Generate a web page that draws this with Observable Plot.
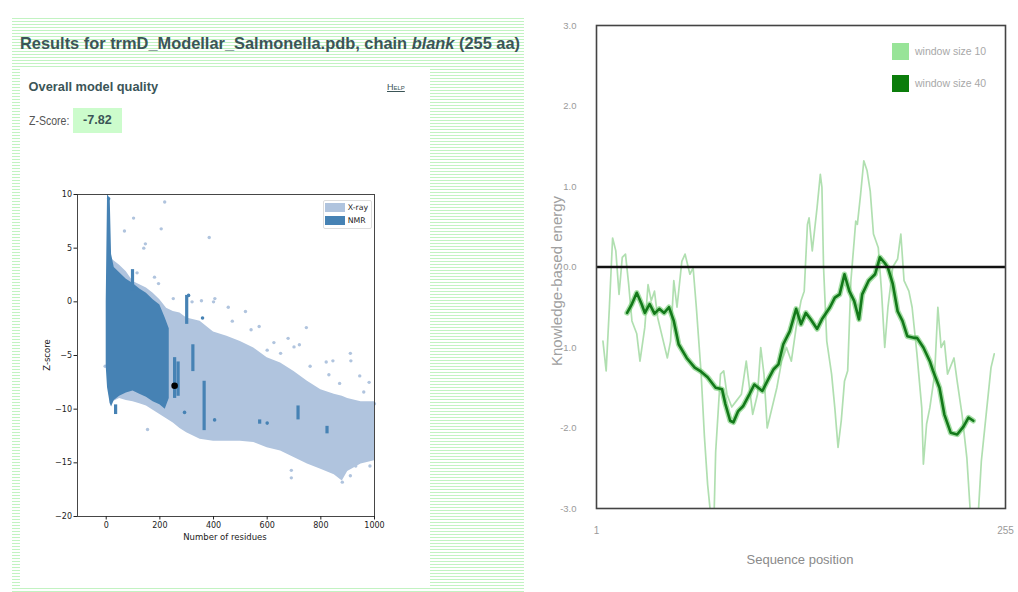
<!DOCTYPE html>
<html>
<head>
<meta charset="utf-8">
<script src="https://cdn.jsdelivr.net/npm/d3@7"></script>
<script src="https://cdn.jsdelivr.net/npm/@observablehq/plot@0.6"></script>
<style>
  body { margin:0; width:1018px; height:592px; position:relative; overflow:hidden; background:#fff; font-family:"Liberation Sans", Arial, sans-serif; }
  .abs { position:absolute; white-space:nowrap; }
  #stripes { left:12px; top:18px; width:512px; height:574px; background: repeating-linear-gradient(to bottom, #c2f3c2 0px, #c2f3c2 1px, #ffffff 1px, #ffffff 3px); }
  #panel { left:20px; top:67px; width:410px; height:521px; background:#fff; }
  #title { left:20px; top:34px; font-size:16.4px; font-weight:bold; color:#3b5557; line-height:18px; }
  #oq { left:28.6px; top:80px; font-size:12.8px; font-weight:bold; color:#3b5557; line-height:14px; }
  #help { left:387px; top:82px; font-size:9px; font-variant:small-caps; text-decoration:underline; color:#3b5557; line-height:10px; }
  #zlab { left:28.6px; top:113px; font-size:13.5px; color:#555; line-height:16px; transform:scaleX(0.78); transform-origin:left center; }
  #zbox { left:73px; top:108px; width:48.6px; height:25px; background:#ccfccc; color:#3b5557; font-weight:bold; font-size:12.6px; line-height:25px; text-align:center; }
  #scatter { left:30px; top:185px; }
  .mpl { font-family:"DejaVu Sans", sans-serif; color:#222; }
  #xl1 { left:125px; top:532px; width:200px; text-align:center; font-size:8.5px; }
  #yl1 { left:47px; top:355px; font-size:8.5px; transform:translate(-50%,-50%) rotate(-90deg); }
  #leg1 { left:322.7px; top:200px; width:47px; height:27px; border:1px solid #ddd; border-radius:2px; background:rgba(255,255,255,0.85); }
  .sw1 { position:absolute; left:1px; width:20px; height:8.5px; }
  .lt1 { position:absolute; left:24px; font-size:7.8px; line-height:9px; }
  #line { left:530px; top:0px; }
  #yl2 { left:556px; top:281px; font-size:15px; color:#a0a0a0; transform:translate(-50%,-50%) rotate(-90deg); }
  #xl2 { left:700px; top:552px; width:200px; text-align:center; font-size:13px; color:#8a8a8a; }
  .sw2 { position:absolute; width:17px; height:17px; }
  .lt2 { position:absolute; font-size:10.5px; color:#a8a8a8; line-height:12px; }
</style>
</head>
<body>
<div id="stripes" class="abs"></div>
<div id="title" class="abs">Results for trmD_Modellar_Salmonella.pdb, chain <i>blank</i> (255 aa)</div>
<div id="panel" class="abs"></div>
<div id="oq" class="abs">Overall model quality</div>
<div id="help" class="abs">Help</div>
<div id="zlab" class="abs">Z-Score:</div>
<div id="zbox" class="abs">-7.82</div>
<div id="scatter" class="abs"></div>
<div id="xl1" class="abs mpl">Number of residues</div>
<div id="yl1" class="abs mpl">Z-score</div>
<div id="leg1" class="abs mpl">
  <div class="sw1" style="top:2px;background:#b0c4de"></div><div class="lt1" style="top:1.5px">X-ray</div>
  <div class="sw1" style="top:15px;background:#4682b4"></div><div class="lt1" style="top:14.5px">NMR</div>
</div>
<div id="line" class="abs"></div>
<div id="yl2" class="abs">Knowledge-based energy</div>
<div id="xl2" class="abs">Sequence position</div>
<div class="sw2 abs" style="left:892px;top:43px;background:#98e498"></div>
<div class="lt2 abs" style="left:915px;top:45px">window size 10</div>
<div class="sw2 abs" style="left:892px;top:75px;background:#0b7d0b"></div>
<div class="lt2 abs" style="left:915px;top:77px">window size 40</div>
<script>
// ---------- Left: Z-score vs number of residues ----------
const xrayResidues = [5, 15, 25, 50, 75, 100, 125, 150, 175, 200, 225, 250, 275, 300, 350, 400, 450, 500, 550, 600, 650, 700, 750, 800, 850, 880, 900, 950, 1000];
const xrayUpper    = [4.6, 4.3, 3.9, 3.4, 2.8, 1.9, 1.6, 1.3, 0.8, 0.2, -0.6, -0.9, -1.05, -1.5, -1.8, -2.8, -3.2, -3.7, -4.3, -5.2, -5.7, -6.5, -7.4, -8.2, -8.6, -8.8, -9.0, -9.3, -9.3];
const xrayLower    = [-7.0, -9.5, -9.3, -9.0, -9.2, -9.3, -9.5, -9.7, -10.1, -10.5, -10.9, -11.3, -11.8, -12.2, -12.8, -13.0, -13.0, -13.0, -13.1, -13.6, -13.9, -14.5, -15.1, -15.6, -16.1, -16.7, -15.8, -15.1, -14.8];
const xrayOutlierX = [218, 102, 68, 205, 384, 146, 140, 180, 115, 195, 250, 320, 355, 400, 405, 455, 519, 570, 678, 746, 700, 720, 600, 625, 820, 845, 910, 912, 945, 980, 1000, 154, -4, 910, 930, 983, 690, 690, 880, 470, 540, 650, 760, 830, 870, 960];
const xrayOutlierY = [9.3, 7.8, 6.6, 6.8, 6.0, 5.4, 5.0, 2.3, 2.7, 1.7, 0.3, 0.0, 0.1, 0.0, 0.3, -0.5, -0.9, -2.3, -3.4, -2.4, -4.2, -4.0, -4.5, -3.8, -5.6, -5.5, -4.8, -5.5, -6.9, -7.5, -9.5, -11.9, -6.0, -16.2, -15.3, -15.3, -15.7, -16.4, -16.8, -1.8, -2.6, -4.8, -6.0, -6.8, -7.6, -8.4];
const nmrResidues = [0, 5, 15, 20, 30, 50, 75, 100, 125, 150, 175, 200, 220, 235];
const nmrUpper    = [0, 10, 9.6, 4.4, 3.2, 2.7, 2.1, 1.7, 1.2, 0.8, 0.2, -0.3, -1.5, -2.5];
const nmrLower    = [-6, -8, -9.5, -9.8, -9.2, -8.8, -8.5, -8.3, -8.6, -8.9, -9.3, -9.6, -10.0, -9.0];
const nmrStripeX  = [300, 323, 255, 268, 365, 715, 823, 572, 98, 35];
const nmrStripeY1 = [0.6, -4.0, -5.2, -5.6, -7.4, -9.7, -11.6, -11.0, 3.0, -9.6];
const nmrStripeY2 = [-2.1, -6.5, -9.0, -8.8, -12.0, -11.0, -12.3, -11.4, 1.0, -10.5];
const nmrDotX = [600, 404, 292, 359, 307, 9];
const nmrDotY = [-11.3, -11.0, -10.3, -1.5, 0.6, 9.6];
const modelResidues = 255, modelZ = -7.82;
const scatterXTicks = [0, 200, 400, 600, 800, 1000];
const scatterYTicks = [-20, -15, -10, -5, 0, 5, 10];

// ---------- Right: energy profile ----------
const win40Pos = [20, 23, 26, 29, 31, 34, 37, 40, 43, 46, 49, 52, 57, 62, 66, 70, 75, 79, 81, 84, 86, 89, 92, 96, 99, 104, 107, 111, 114, 117, 121, 125, 128, 131, 134, 138, 141, 146, 149, 152, 155, 158, 161, 164, 166, 170, 174, 177, 180, 182, 185, 188, 191, 194, 198, 200, 204, 208, 210, 214, 217, 221, 225, 229, 232, 235];
const win40Val = [-0.57, -0.46, -0.32, -0.46, -0.57, -0.46, -0.58, -0.52, -0.57, -0.5, -0.67, -0.96, -1.13, -1.25, -1.3, -1.37, -1.5, -1.52, -1.7, -1.91, -1.93, -1.79, -1.73, -1.58, -1.46, -1.54, -1.42, -1.27, -1.21, -0.96, -0.8, -0.52, -0.71, -0.57, -0.65, -0.77, -0.65, -0.5, -0.38, -0.34, -0.09, -0.3, -0.42, -0.65, -0.34, -0.17, -0.09, 0.12, 0.05, -0.01, -0.21, -0.55, -0.67, -0.86, -0.88, -0.88, -1.0, -1.17, -1.29, -1.5, -1.83, -2.06, -2.08, -1.98, -1.87, -1.91];
const win10Pos = [5, 7, 9, 11, 13, 15, 17, 19, 21, 23, 26, 28, 31, 33, 35, 37, 39, 42, 45, 47, 49, 51, 54, 56, 59, 61, 63, 66, 68, 70, 72, 74, 75, 78, 80, 82, 85, 88, 91, 94, 98, 101, 103, 105, 107, 110, 113, 116, 119, 122, 125, 128, 130, 132, 133, 135, 138, 140, 141, 142, 144, 147, 149, 151, 153, 155, 157, 159, 161, 162, 163, 165, 167, 169, 171, 173, 176, 178, 180, 182, 185, 188, 190, 192, 195, 197, 200, 203, 204, 206, 208, 211, 213, 215, 217, 219, 223, 225, 228, 231, 233, 235, 238, 240, 243, 246, 248];
const win10Val = [-0.92, -1.29, -0.5, 0.36, 0.2, -0.34, 0.12, 0.16, -0.22, -0.67, -0.83, -1.17, -0.75, -0.22, -0.42, -0.3, -0.63, -0.88, -1.13, -0.92, -0.17, -0.5, 0.07, 0.16, -0.09, -0.01, -0.5, -1.33, -2.1, -2.7, -3.1, -3.1, -2.3, -1.33, -1.29, -1.58, -1.74, -1.66, -1.58, -1.17, -1.83, -1.58, -1.0, -1.33, -2.0, -1.75, -1.5, -1.17, -1.0, -1.17, -0.75, -0.42, -0.3, 0.53, 0.61, 0.2, 0.74, 1.15, 0.99, 0.0, -0.92, -1.33, -1.75, -2.24, -1.91, -1.42, -1.29, -0.17, 0.32, 0.57, 0.53, 0.9, 1.32, 1.2, 0.94, 0.41, 0.24, -0.3, -1.0, -0.5, 0.0, 0.1, 0.41, -0.17, -0.3, -0.5, -1.08, -1.75, -2.45, -1.95, -1.75, -1.33, -0.5, -1.0, -0.92, -1.33, -1.13, -1.42, -1.83, -2.37, -3.0, -3.2, -3.1, -2.41, -1.83, -1.25, -1.08];
const energyYTicks = [-3, -2, -1, 0, 1, 2, 3];
const energyXTicks = [1, 255];

// ---- build tables ----
const xrayBand = xrayResidues.map((x, i) => ({x, y1: xrayLower[i], y2: xrayUpper[i]}));
const xrayDots = xrayOutlierX.map((x, i) => ({x, y: xrayOutlierY[i]}));
const nmrBand = nmrResidues.map((x, i) => ({x, y1: nmrLower[i], y2: nmrUpper[i]}));
const nmrStripes = nmrStripeX.map((x, i) => ({x, y1: nmrStripeY1[i], y2: nmrStripeY2[i]}));
const nmrDots = nmrDotX.map((x, i) => ({x, y: nmrDotY[i]}));
const minus = d => d < 0 ? "\u2212" + Math.abs(d) : String(d);
const hyphen1 = d => (d < 0 ? "-" : "") + Math.abs(d).toFixed(1);

const scatter = Plot.plot({
  width: 360, height: 370,
  marginLeft: 47, marginRight: 16, marginTop: 9, marginBottom: 39,
  style: {fontFamily: "DejaVu Sans, sans-serif", fontSize: "8px", color: "#222", background: "transparent"},
  x: {domain: [-107, 1000]},
  y: {domain: [-20, 10]},
  marks: [
    Plot.areaY(xrayBand, {x: "x", y1: "y1", y2: "y2", fill: "#b0c4de"}),
    Plot.dot(xrayDots, {x: "x", y: "y", r: 1.7, fill: "#b0c4de"}),
    Plot.areaY(nmrBand, {x: "x", y1: "y1", y2: "y2", fill: "#4682b4"}),
    Plot.ruleX(nmrStripes, {x: "x", y1: "y1", y2: "y2", stroke: "#4682b4", strokeWidth: 3.2}),
    Plot.dot(nmrDots, {x: "x", y: "y", r: 1.8, fill: "#4682b4"}),
    Plot.dot([{x: modelResidues, y: modelZ}], {x: "x", y: "y", r: 3.3, fill: "#000"}),
    Plot.frame({stroke: "#333", strokeWidth: 0.9}),
    Plot.axisX({ticks: scatterXTicks, tickSize: 3.5, tickPadding: 2.5, label: null, tickFormat: minus}),
    Plot.axisY({ticks: scatterYTicks, tickSize: 3.5, tickPadding: 2, label: null, tickFormat: minus})
  ]
});
document.getElementById("scatter").appendChild(scatter);

const w10 = win10Pos.map((x, i) => ({x, y: win10Val[i]}));
const w40 = win40Pos.map((x, i) => ({x, y: win40Val[i]}));
const energy = Plot.plot({
  width: 488, height: 592,
  marginLeft: 66, marginRight: 13, marginTop: 25, marginBottom: 84,
  style: {fontFamily: "Liberation Sans, Arial, sans-serif", fontSize: "9.5px", background: "transparent"},
  x: {domain: [1, 255]},
  y: {domain: [-3, 3]},
  marks: [
    Plot.line(w10, {x: "x", y: "y", stroke: "#8fd18f", strokeOpacity: 0.7, strokeWidth: 1.7, clip: true}),
    Plot.line(w40, {x: "x", y: "y", stroke: "#5fc45f", strokeOpacity: 0.55, strokeWidth: 5.5, clip: true}),
    Plot.line(w40, {x: "x", y: "y", stroke: "#13791a", strokeWidth: 2.6, clip: true}),
    Plot.ruleY([0], {stroke: "#111", strokeWidth: 2.5}),
    Plot.frame({stroke: "#444", strokeWidth: 1.6}),
    Plot.axisY({ticks: energyYTicks, tickSize: 0, tickPadding: 20, label: null, tickFormat: hyphen1, fill: "#9a9a9a"}),
    Plot.axisX({ticks: energyXTicks, tickSize: 0, tickPadding: 18, label: null, fill: "#9a9a9a", fontSize: 10})
  ]
});
document.getElementById("line").appendChild(energy);
</script>
</body>
</html>
